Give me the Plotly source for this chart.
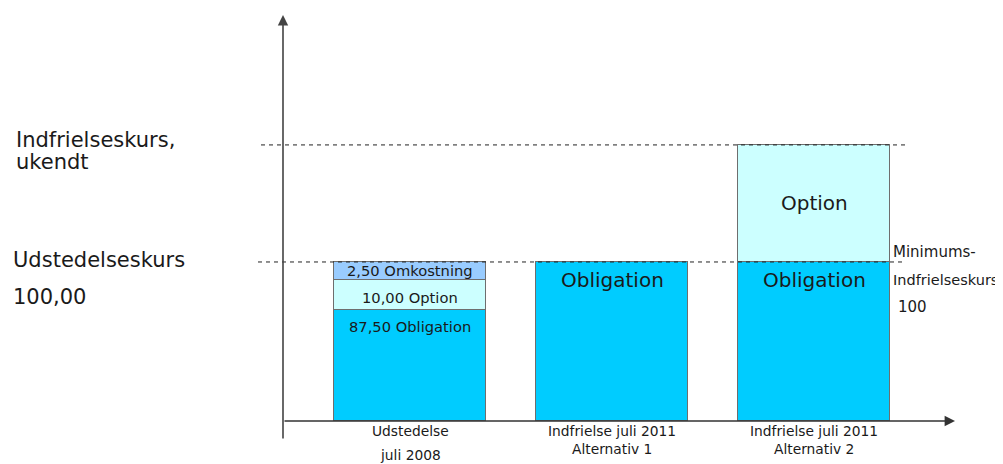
import plotly.graph_objects as go

# ---- data ----
x_pos = [0, 1, 2]
cat_line1 = ["Udstedelse", "Indfrielse juli 2011", "Indfrielse juli 2011"]
cat_line2 = ["juli 2008", "Alternativ 1", "Alternativ 2"]

obligation = [69.8, 100.0, 100.0]
option = [18.9, 0.0, 73.6]
omkostning = [11.3, 0.0, 0.0]

obligation_labels = ["87,50 Obligation", "Obligation", "Obligation"]
option_labels = ["10,00 Option", "", "Option"]
omkostning_labels = ["2,50 Omkostning", "", ""]

udstedelseskurs = 100.0
indfrielseskurs = 173.6

FONT = "DejaVu Sans, Verdana, sans-serif"
TXT = "#1a1a1a"
C_OBL = "#00CCFF"
C_OPT = "#CCFFFF"
C_OMK = "#99CCFF"
BAR_W = 0.752

# page body has an 8px offset -> work in figure pixels = target pixels - 8
OFF = 8
W, H = 1003 - OFF, 464 - OFF
L, R, T, B = 283 - OFF, 48, 15 - OFF, 43
PW = W - L - R


def px_to_paper_x(px):
    return (px - OFF - L) / PW


fig = go.Figure()
line = dict(color="#6e6e6e", width=1.3)
fig.add_bar(x=x_pos, y=obligation, width=BAR_W, marker=dict(color=C_OBL, line=line), name="Obligation")
fig.add_bar(x=x_pos, y=option, width=BAR_W, marker=dict(color=C_OPT, line=line), name="Option")
fig.add_bar(x=x_pos, y=omkostning, width=BAR_W, marker=dict(color=C_OMK, line=line), name="Omkostning")


def ann(x, y, text, size, xref="x", yref="y", xanchor="center", yshift=0, xshift=0):
    return dict(x=x, y=y, xref=xref, yref=yref, text=text, showarrow=False, xanchor=xanchor,
                yanchor="middle", yshift=yshift, xshift=xshift, font=dict(size=size, color=TXT, family=FONT))


annotations = []
# in-bar labels
for i in range(3):
    small = (i == 0)
    if obligation_labels[i]:
        annotations.append(ann(x_pos[i], obligation[i], obligation_labels[i], 14.7 if small else 20,
                               yshift=-16 if small else -18))
    if option_labels[i]:
        annotations.append(ann(x_pos[i], obligation[i] + option[i] / 2.0, option_labels[i],
                               14.7 if small else 20, yshift=-3 if small else 0))
    if omkostning_labels[i]:
        annotations.append(ann(x_pos[i], obligation[i] + option[i] + omkostning[i] / 2.0, omkostning_labels[i],
                               14.7, yshift=0))

# category labels under the axis
for i in range(3):
    annotations.append(ann(x_pos[i], 0, cat_line1[i], 13.8, yshift=-10))
    annotations.append(ann(x_pos[i], 0, cat_line2[i], 13.8, yshift=-34 if i == 0 else -28))

# left-hand level labels
annotations += [
    ann(px_to_paper_x(14), indfrielseskurs, "Indfrielseskurs,", 21, xref="paper", xanchor="left", yshift=5),
    ann(px_to_paper_x(14), indfrielseskurs, "ukendt", 21, xref="paper", xanchor="left", yshift=-17),
    ann(px_to_paper_x(11), udstedelseskurs, "Udstedelseskurs", 21, xref="paper", xanchor="left", yshift=2),
    ann(px_to_paper_x(11), udstedelseskurs, "100,00", 21, xref="paper", xanchor="left", yshift=-35),
]
# right-hand label
for txt, dy, dx, sz in (("Minimums-", 10, 0, 15), ("Indfrielseskurs", -18, 0, 14.5), ("100", -45, 5, 15)):
    annotations.append(ann(2 + BAR_W / 2, udstedelseskurs, txt, sz, xanchor="left", xshift=1 + dx, yshift=dy))

# axis arrows
annotations += [
    dict(x=0, y=1, xref="paper", yref="paper", ax=0, ay=425, showarrow=True,
         arrowhead=2, arrowsize=1.3, arrowwidth=1.6, arrowcolor="#444", text=""),
    dict(x=1, y=0, xref="paper", yref="paper", ax=-PW, ay=0, showarrow=True,
         arrowhead=2, arrowsize=1.3, arrowwidth=1.6, arrowcolor="#333", text=""),
]

shapes = []
for lvl, x0 in ((indfrielseskurs, 261), (udstedelseskurs, 258)):
    shapes.append(dict(type="line", xref="paper", yref="y", x0=px_to_paper_x(x0), x1=px_to_paper_x(905),
                       y0=lvl, y1=lvl, line=dict(color="#222", width=1, dash="4px,4px"), layer="above"))

fig.update_layout(
    width=W, height=H, barmode="stack", showlegend=False,
    margin=dict(l=L, r=R, t=T, b=B),
    paper_bgcolor="white", plot_bgcolor="white",
    xaxis=dict(range=[-127 / 202, 545 / 202], showgrid=False, zeroline=False, showticklabels=False, showline=False),
    yaxis=dict(range=[0, 255.3], showgrid=False, zeroline=False, showticklabels=False, showline=False),
    annotations=annotations, shapes=shapes, bargap=0,
)
fig.write_html("out.html")
